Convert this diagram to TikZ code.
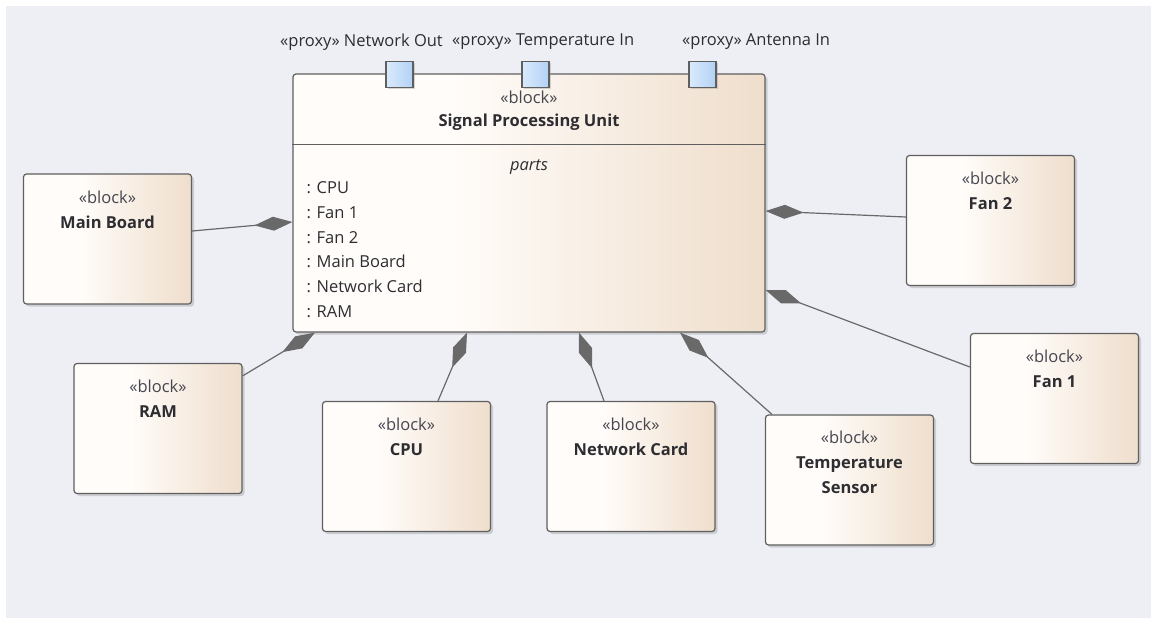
\documentclass[tikz,border=0pt]{standalone}
\usepackage{fontspec}
\setmainfont{Open Sans}
\usetikzlibrary{arrows.meta,shadows,calc}
\definecolor{bg}{RGB}{238,239,245}
\definecolor{blockL}{RGB}{255,252,249}
\definecolor{blockR}{RGB}{239,222,204}
\definecolor{edge}{RGB}{95,95,95}
\definecolor{conn}{RGB}{105,105,105}
\definecolor{portL}{RGB}{218,234,252}
\definecolor{portR}{RGB}{178,209,245}
\definecolor{txt}{RGB}{45,45,50}
\definecolor{stxt}{RGB}{70,70,80}
\pgfdeclarehorizontalshading{blockshade}{100bp}{color(0bp)=(blockL); color(42bp)=(blockL); color(75bp)=(blockR); color(100bp)=(blockR)}
\pgfdeclarehorizontalshading{portshade}{100bp}{color(0bp)=(portL); color(25bp)=(portL); color(75bp)=(portR); color(100bp)=(portR)}
\tikzset{
  block/.style={draw=edge, line width=1.2pt, rounded corners=3pt, shading=blockshade,
    minimum width=168pt, minimum height=130pt, inner sep=0pt,
    drop shadow={shadow xshift=2.5pt, shadow yshift=-2.5pt, opacity=0.3, fill=black!50}},
  btext/.style={anchor=north, align=center, inner sep=0pt, text=txt, font=\fontsize{16.5}{25}\selectfont},
  port/.style={draw=edge, line width=1.2pt, shading=portshade, minimum width=27pt, minimum height=26pt, inner sep=0pt,
    drop shadow={shadow xshift=2pt, shadow yshift=-2pt, opacity=0.3, fill=black!50}},
  plabel/.style={anchor=west, inner sep=0pt, text=txt, font=\fontsize{16.5}{18}\selectfont},
  item/.style={anchor=base west, inner sep=0pt, text=txt, font=\fontsize{16.5}{18}\selectfont},
  comp/.style={draw=conn, line width=1.2pt, -{Diamond[length=38pt,width=14pt,fill=conn]}},
}
\begin{document}
\begin{tikzpicture}[x=1pt,y=-1pt]
\useasboundingbox (0,0) rectangle (1151,618);
\fill[bg] (6,6) rectangle (1151,618);

% main block
\node[block, minimum width=472pt, minimum height=258pt] (spu) at (529,203) {};
\draw[edge, line width=1.2pt] ($(spu.north west)+(0,71)$) coordinate (d1) -- ($(spu.north east)+(0,71)$) coordinate (d2);
\node[btext, font=\fontsize{16.5}{23}\selectfont] (spuT) at ($(spu.north)+(0,17.5)$) {{\color{stxt}«block»}\\\textbf{Signal Processing Unit}};
\node[inner sep=0pt, text=txt, font=\fontsize{16.5}{18}\selectfont\itshape] (parts) at ($(spu.north)+(0,94)$) {parts};
\foreach \t [count=\i] in {CPU, Fan 1, Fan 2, Main Board, Network Card, RAM}
  \node[item] (it\i) at ($(spu.north west)+(14,120+24.8*\i-24.8)$) {: \t};

% ports
\node[port] (p1) at ($(spu.north west)+(107,1)$) {};
\node[port] (p2) at ($(spu.north west)+(243,1)$) {};
\node[port] (p3) at ($(spu.north west)+(410,1)$) {};
\node[plabel] (l1) at (280,42) {«proxy» Network Out};
\node[plabel] (l2) at (452,42) {«proxy» Temperature In};
\node[plabel] (l3) at (682,42) {«proxy» Antenna In};

% part blocks
\node[block] (mb) at (107.5,239) {};
\node[btext] (mbT) at ($(mb.north)+(0,17)$) {{\color{stxt}«block»}\\\textbf{Main Board}};
\node[block] (ram) at (158,428.5) {};
\node[btext] (ramT) at ($(ram.north)+(0,17)$) {{\color{stxt}«block»}\\\textbf{RAM}};
\node[block] (cpu) at (406.5,466.5) {};
\node[btext] (cpuT) at ($(cpu.north)+(0,17)$) {{\color{stxt}«block»}\\\textbf{CPU}};
\node[block] (nc) at (631,466.5) {};
\node[btext] (ncT) at ($(nc.north)+(0,17)$) {{\color{stxt}«block»}\\\textbf{Network Card}};
\node[block] (ts) at (849.5,480) {};
\node[btext] (tsT) at ($(ts.north)+(0,16)$) {{\color{stxt}«block»}\\\textbf{Temperature}\\\textbf{Sensor}};
\node[block] (fan2) at (990.5,220.5) {};
\node[btext] (fan2T) at ($(fan2.north)+(0,17)$) {{\color{stxt}«block»}\\\textbf{Fan 2}};
\node[block] (fan1) at (1054.5,398.5) {};
\node[btext] (fan1T) at ($(fan1.north)+(0,17)$) {{\color{stxt}«block»}\\\textbf{Fan 1}};

% composition connectors
\draw[comp] ($(mb.east)+(0,-8)$) -- ($(spu.west)+(0,19)$);
\draw[comp] ($(fan2.west)+(0,-3.5)$) -- ($(spu.east)+(0,8)$);
\draw[comp] ($(fan1.west)+(0,-31.5)$) -- ($(spu.east)+(0,87)$);
\draw[comp] ($(ram.north east)+(0,13)$) -- ($(spu.south)+(-214,0)$);
\draw[comp] ($(cpu.north)+(31.5,0)$) -- ($(spu.south)+(-62,0)$);
\draw[comp] ($(nc.north)+(-27,0)$) -- ($(spu.south)+(50,0)$);
\draw[comp] ($(ts.north)+(-77.5,0)$) -- ($(spu.south)+(151,0)$);
\end{tikzpicture}
\end{document}
